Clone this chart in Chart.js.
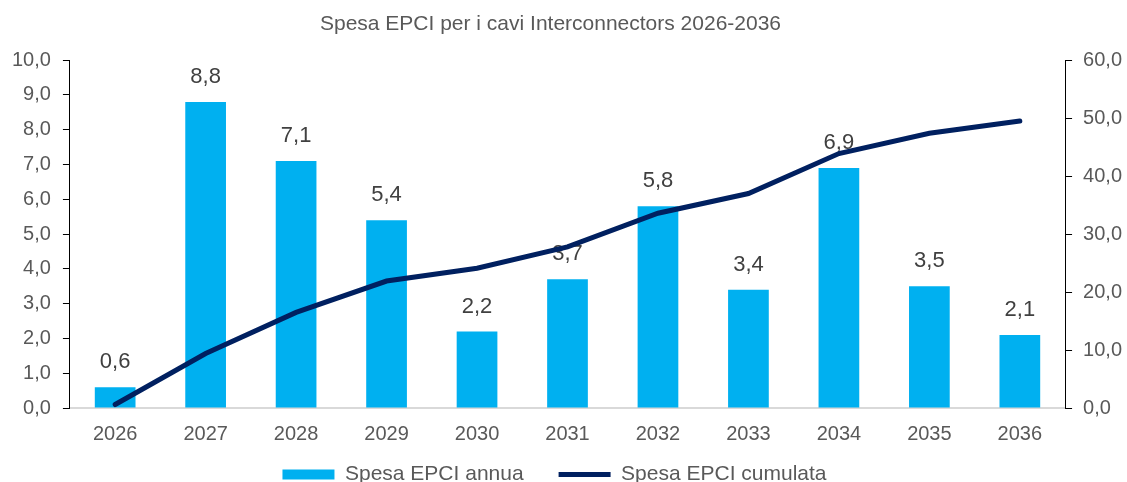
<!DOCTYPE html>
<html>
<head>
<meta charset="utf-8">
<script src="https://cdn.jsdelivr.net/npm/chart.js@4"></script>
<style>
  html, body { margin: 0; padding: 0; background: #fff; overflow: hidden; }
</style>
</head>
<body>
<canvas id="chart" width="1127" height="482"></canvas>
<script>
const years = ["2026", "2027", "2028", "2029", "2030", "2031", "2032", "2033", "2034", "2035", "2036"];
const annualSpend = [0.6, 8.8, 7.1, 5.4, 2.2, 3.7, 5.8, 3.4, 6.9, 3.5, 2.1];
const cumulativeSpend = [0.6, 9.4, 16.5, 21.9, 24.1, 27.8, 33.6, 37.0, 43.9, 47.4, 49.5];

const fmt = (v) => Number(v).toFixed(1).replace(".", ",");
const FONT = "'Liberation Sans', Arial, sans-serif";
const TEXT = "#595959";

Chart.defaults.font.family = FONT;

// value labels above the bars, drawn before the line so it covers them
const barLabels = {
  id: "barLabels",
  afterDatasetDraw(chart, args) {
    if (args.index !== 0) return;
    const ctx = chart.ctx;
    ctx.save();
    ctx.font = "22px " + FONT;
    ctx.fillStyle = "#404040";
    ctx.textAlign = "center";
    ctx.textBaseline = "middle";
    args.meta.data.forEach((bar, i) => {
      ctx.fillText(fmt(annualSpend[i]), bar.x, bar.y - 25);
    });
    ctx.restore();
  },
};

// Excel centres title and legend a bit left of the canvas middle
const nudge = {
  id: "nudge",
  afterLayout(chart) {
    const t = chart.titleBlock;
    t.left -= 16; t.right -= 16;
    const lg = chart.legend;
    lg.left -= 12; lg.right -= 12;
    lg.top -= 31; lg.bottom -= 31;
  },
};

new Chart(document.getElementById("chart").getContext("2d"), {
  data: {
    labels: years,
    datasets: [
      {
        type: "bar",
        label: "Spesa EPCI annua",
        data: annualSpend,
        backgroundColor: "#00B0F0",
        borderWidth: 0,
        barPercentage: 0.45,
        categoryPercentage: 1,
        yAxisID: "y",
        order: 1,
      },
      {
        type: "line",
        label: "Spesa EPCI cumulata",
        data: cumulativeSpend,
        borderColor: "#002060",
        backgroundColor: "#002060",
        borderWidth: 5,
        borderCapStyle: "round",
        pointRadius: 0,
        tension: 0,
        yAxisID: "y1",
        order: 0,
      },
    ],
  },
  options: {
    responsive: false,
    animation: false,
    layout: { padding: { left: 0, right: -6, top: 0, bottom: -44 } },
    scales: {
      x: {
        grid: { display: false, drawTicks: false },
        border: { display: true, color: "#d9d9d9", width: 2 },
        ticks: { color: TEXT, font: { size: 20 }, padding: 14 },
      },
      y: {
        position: "left",
        min: 0,
        max: 10,
        grid: { drawOnChartArea: false, drawTicks: true, tickLength: 7, color: "#000" },
        border: { display: true, color: "#000", width: 1 },
        ticks: { stepSize: 1, color: TEXT, font: { size: 20 }, padding: 12, callback: fmt },
      },
      y1: {
        position: "right",
        min: 0,
        max: 60,
        grid: { drawOnChartArea: false, drawTicks: true, tickLength: 7, color: "#000" },
        border: { display: true, color: "#000", width: 1 },
        ticks: { stepSize: 10, color: TEXT, font: { size: 20 }, padding: 11, callback: fmt },
      },
    },
    plugins: {
      title: {
        display: true,
        text: "Spesa EPCI per i cavi Interconnectors 2026-2036",
        color: TEXT,
        font: { size: 21, weight: "normal" },
        padding: { top: 12, bottom: 23 },
      },
      legend: {
        position: "bottom",
        labels: {
          color: TEXT,
          font: { size: 21 },
          usePointStyle: true,
          pointStyleWidth: 52,
          boxHeight: 10,
          padding: 35,
          sort: (a, b) => a.datasetIndex - b.datasetIndex,
          generateLabels(chart) {
            const items = Chart.defaults.plugins.legend.labels.generateLabels(chart);
            items.forEach((it) => {
              if (it.datasetIndex === 0) {
                it.pointStyle = "rect";
                it.lineWidth = 0;
              } else {
                it.pointStyle = "line";
                it.lineWidth = 5;
                it.strokeStyle = "#002060";
              }
            });
            return items;
          },
        },
      },
      tooltip: { enabled: false },
    },
  },
  plugins: [barLabels, nudge],
});
</script>
</body>
</html>
